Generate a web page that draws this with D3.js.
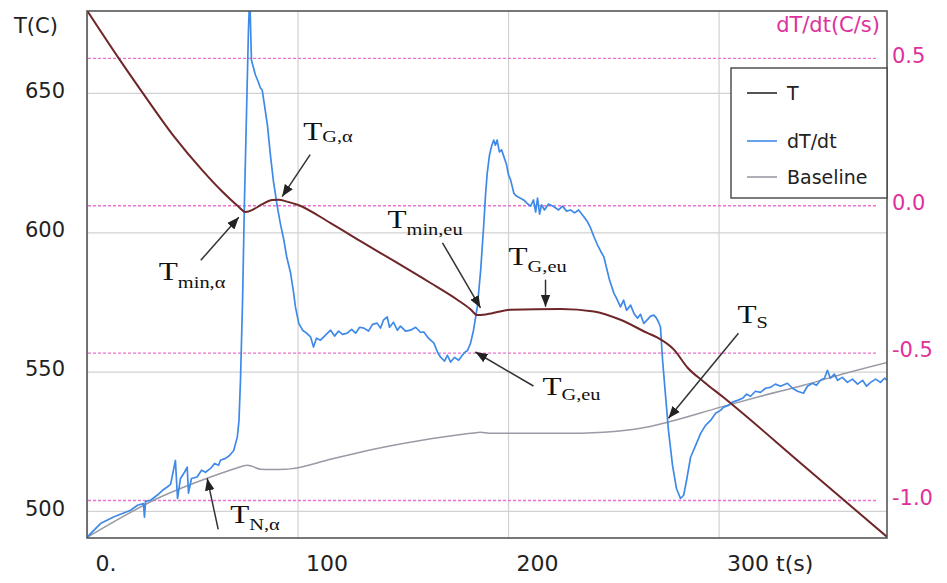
<!DOCTYPE html>
<html>
<head>
<meta charset="utf-8">
<script src="https://cdn.jsdelivr.net/npm/d3@7"></script>
<style>
body { margin: 0; background: #fff; }
</style>
</head>
<body>
<div id="chart"></div>
<script>
// values
var tempTime = [0, 15.1, 26.2, 41.2, 54.7, 64, 71.4, 75.3, 79, 83, 88, 91, 95, 100, 115.7, 131.5, 147.4, 163.2, 175.9, 182, 185.4, 190, 201.2, 225, 240.8, 253.4, 266.1, 271, 278.8, 285.3, 292.9, 302.4, 340, 380.3]
var tempVal = [679.6, 662.4, 650.3, 634.5, 622.3, 614.8, 609.6, 607.3, 608.2, 610.0, 611.6, 611.7, 611.0, 609.9, 603.3, 596.1, 589.0, 581.8, 575.8, 572.5, 570.3, 570.6, 572.2, 572.5, 571.6, 568.6, 563.9, 562.2, 557.9, 551.4, 546.4, 540.7, 516.5, 490.5]

var rateTime = [0.1, 6.4, 12.6, 20.7, 24.0, 26.8, 27.3, 27.8, 30.2, 33.3, 35.9, 38.1, 39.7, 42.0, 43.0, 44.4, 46.3, 47.6, 48.2, 49.6,
  52.3, 54.4, 56.3, 58.7, 60.6, 62.5, 63.4, 65.8, 67.7, 69.7, 71.4, 72.2, 72.9, 73.9, 74.8, 75.8, 76.7, 77.3, 78.1, 80.0,
  81.0, 82.4, 83.2, 84.3, 85.7, 87.2, 88.6, 90.4, 91.9, 93.5, 94.8, 96.7, 98.1, 99.0, 100.6, 102.4, 104.3, 106.2, 107.6, 109.0,
  110.9, 113.3, 115.7, 117.6, 119.5, 121.4, 123.6, 125.7, 127.6, 129.5, 131.5, 133.7, 135.6, 137.8, 139.4, 140.8, 142.6, 143.7, 145.6, 147.4,
  148.9, 151.3, 153.7, 156.1, 158.4, 160.0, 162.2, 164.8, 166.5, 167.9, 169.8, 171.2, 172.7, 174.6, 176.5, 179.0, 180.8, 182.2, 183.6, 185.4,
  187.0, 188.5, 189.3, 190.1, 191.2, 192.2, 193.2, 194.0, 194.8, 195.9, 196.9, 198.0, 199.3, 200.2, 201.2, 202.8, 204.0, 205.9, 207.4, 209.1,
  210.7, 212.1, 213.1, 214.0, 215.0, 215.9, 217.3, 219.2, 221.8, 224.0, 225.9, 227.8, 229.7, 231.6, 233.5, 236.0, 237.8, 239.2, 240.8, 242.5,
  244.0, 245.5, 246.8, 248.2, 250.3, 251.5, 253.4, 254.9, 256.3, 258.2, 259.8, 261.5, 262.9, 264.5, 266.3, 267.7, 269.3, 270.5, 271.5, 272.4,
  273.4, 274.8, 276.2, 278.1, 280.0, 281.9, 283.4, 284.8, 286.7, 289.1, 291.5, 293.8, 296.2, 298.6, 300.9, 302.4, 304.7, 306.6, 309.0, 311.4,
  313.3, 315.2, 317.5, 319.9, 322.3, 324.6, 327.0, 329.4, 332.7, 335.1, 337.5, 340.3, 342.2, 344.6, 346.5, 348.4, 350.3, 351.7, 353.1, 355.0,
  356.5, 358.8, 361.2, 363.6, 366.0, 368.4, 370.3, 372.2, 374.6, 376.9, 378.8, 380.2]
var rateVal = [-1.126, -1.080, -1.058, -1.035, -1.018, -1.012, -1.058, -1.005, -1.001, -0.984, -0.967, -0.956, -0.947, -0.866, -0.995, -0.927, -0.906, -0.889, -0.977, -0.927,
  -0.922, -0.899, -0.906, -0.893, -0.876, -0.882, -0.865, -0.859, -0.849, -0.832, -0.786, -0.730, -0.594, -0.322, 0.018, 0.323, 0.595, 0.714, 0.493, 0.442,
  0.425, 0.398, 0.391, 0.340, 0.272, 0.165, 0.079, -0.005, -0.064, -0.118, -0.173, -0.230, -0.295, -0.345, -0.401, -0.424, -0.434, -0.447, -0.481, -0.451,
  -0.458, -0.441, -0.424, -0.444, -0.427, -0.438, -0.434, -0.421, -0.434, -0.414, -0.417, -0.427, -0.404, -0.400, -0.417, -0.390, -0.379, -0.414, -0.397, -0.424,
  -0.410, -0.427, -0.424, -0.414, -0.431, -0.430, -0.451, -0.468, -0.499, -0.515, -0.529, -0.509, -0.532, -0.516, -0.526, -0.502, -0.492, -0.468, -0.424, -0.345,
  -0.220, -0.061, 0.035, 0.109, 0.171, 0.201, 0.221, 0.204, 0.221, 0.181, 0.188, 0.165, 0.137, 0.103, 0.086, 0.040, 0.031, 0.024, 0.018, 0.006,
  -0.003, 0.018, -0.023, 0.024, -0.030, 0.001, -0.016, 0.004, -0.005, -0.016, -0.003, -0.020, -0.016, -0.026, -0.016, -0.039, -0.057, -0.077, -0.107, -0.135,
  -0.156, -0.175, -0.213, -0.254, -0.299, -0.315, -0.345, -0.322, -0.356, -0.339, -0.367, -0.383, -0.370, -0.401, -0.387, -0.376, -0.373, -0.383, -0.397, -0.413,
  -0.526, -0.645, -0.764, -0.882, -0.961, -0.995, -0.984, -0.933, -0.855, -0.815, -0.774, -0.747, -0.730, -0.706, -0.696, -0.685, -0.679, -0.668, -0.662, -0.655,
  -0.641, -0.648, -0.631, -0.635, -0.621, -0.618, -0.607, -0.614, -0.604, -0.621, -0.631, -0.638, -0.614, -0.604, -0.611, -0.594, -0.587, -0.560, -0.587, -0.573,
  -0.594, -0.584, -0.601, -0.590, -0.607, -0.594, -0.614, -0.601, -0.590, -0.601, -0.587, -0.594]

var baseTime = [0, 34.9, 58.7, 70.5, 76.1, 78.6, 82.4, 87.2, 94.3, 98.1, 115.7, 133.3, 158.4, 182.2, 187, 191.7, 201.2, 225, 245.4, 262.9, 275.8, 301, 320, 340.3, 360.3, 380.2]
var baseVal = [-1.127, -0.990, -0.922, -0.893, -0.882, -0.886, -0.896, -0.897, -0.896, -0.893, -0.862, -0.832, -0.798, -0.774, -0.770, -0.774, -0.774, -0.774, -0.770, -0.757, -0.736, -0.685, -0.648, -0.611, -0.570, -0.533]

var xTicks = [0, 100, 200, 300]
var xTickLabels = ["0.", "100", "200", "300 t(s)"]
var tTicks = [500, 550, 600, 650]
var rateTicks = [0.5, 0.0, -0.5, -1.0]
var rateTickLabels = ["0.5", "0.0", "-0.5", "-1.0"]
var legendNames = ["T", "dT/dt", "Baseline"]

// annotations: which axis, time and value the arrow points at
var annoMain = ["T", "T", "T", "T", "T", "T", "T"]
var annoSub = ["G,\u03b1", "min,\u03b1", "min,eu", "G,eu", "G,eu", "S", "N,\u03b1"]
var annoAxis = ["T", "T", "T", "T", "rate", "rate", "rate"]
var annoTime = [92.7, 72.1, 186.9, 217.8, 184.5, 276.2, 57.1]
var annoVal = [612.8, 605.4, 572.9, 573.3, -0.498, -0.723, -0.927]

// layout
var W = 947, H = 583
var margin = {top: 11, right: 60, bottom: 45, left: 87}
var width = W - margin.left - margin.right,
height = H - margin.top - margin.bottom

var colT = "#6e2628", colRate = "#3f8ae8", colBase = "#9a9aa6"
var pink = "#e0309c", pinkLine = "#ee70d2"

var svg = d3.select("#chart")
.append("svg")
.attr("width", W)
.attr("height", H)
.append("g")
.attr("transform", "translate(" + margin.left + "," + margin.top + ")")

var x = d3.scaleLinear().domain([0, 380]).range([0, width])
var yT = d3.scaleLinear().domain([490.3, 679.4]).range([height, 0])
var yR = d3.scaleLinear().domain([-1.129, 0.659]).range([height, 0])

// grey grid through the axes
var gx = svg.append("g")
.attr("transform", "translate(0," + height + ")")
.call(d3.axisBottom(x).tickValues(xTicks).tickSize(-height).tickPadding(17)
  .tickFormat(function(d, i){ return xTickLabels[i] }))
gx.select(".domain").remove()
gx.selectAll("line").attr("stroke", "#d2d2d2").attr("stroke-width", 1.2)
gx.selectAll("text").attr("x", 8).attr("text-anchor", "start")
  .style("font-family", "DejaVu Sans").style("font-size", "22px").attr("fill", "#222")

var gy = svg.append("g")
.call(d3.axisLeft(yT).tickValues(tTicks).tickSize(-width).tickPadding(22))
gy.select(".domain").remove()
gy.selectAll("line").attr("stroke", "#d2d2d2").attr("stroke-width", 1.2)
gy.selectAll("text").attr("dy", "0.2em")
  .style("font-family", "DejaVu Sans").style("font-size", "21px").attr("fill", "#222")

// pink dashed lines for the rate axis
var gr = svg.append("g")
.attr("transform", "translate(" + (width - 11) + ",0)")
.call(d3.axisRight(yR).tickValues(rateTicks).tickSize(-(width - 11)).tickPadding(16)
  .tickFormat(function(d, i){ return rateTickLabels[i] }))
gr.select(".domain").remove()
gr.selectAll("line").attr("stroke", pinkLine).attr("stroke-width", 1.3).attr("stroke-dasharray", "3,2")
gr.selectAll("text").attr("dy", "0.2em")
  .style("font-family", "DejaVu Sans").style("font-size", "21px").attr("fill", pink)

svg.append("clipPath").attr("id", "plotclip")
.append("rect").attr("width", width).attr("height", height)

var plot = svg.append("g").attr("clip-path", "url(#plotclip)")

var baseData = baseTime.map(function(t, i){ return [t, baseVal[i]] })
var rateData = rateTime.map(function(t, i){ return [t, rateVal[i]] })
var tempData = tempTime.map(function(t, i){ return [t, tempVal[i]] })

plot.append("path")
.datum(baseData)
.attr("fill", "none")
.attr("stroke", colBase)
.attr("stroke-width", 1.5)
.attr("d", d3.line()
  .x(function(d){ return x(d[0]) })
  .y(function(d){ return yR(d[1]) })
  .curve(d3.curveMonotoneX))

plot.append("path")
.datum(rateData)
.attr("fill", "none")
.attr("stroke", colRate)
.attr("stroke-width", 1.7)
.attr("stroke-linejoin", "round")
.attr("d", d3.line()
  .x(function(d){ return x(d[0]) })
  .y(function(d){ return yR(d[1]) }))

plot.append("path")
.datum(tempData)
.attr("fill", "none")
.attr("stroke", colT)
.attr("stroke-width", 2)
.attr("d", d3.line()
  .x(function(d){ return x(d[0]) })
  .y(function(d){ return yT(d[1]) })
  .curve(d3.curveMonotoneX))

// frame
svg.append("rect")
.attr("width", width)
.attr("height", height)
.attr("fill", "none")
.attr("stroke", "#555")
.attr("stroke-width", 1.6)

// axis titles
svg.append("text")
.attr("x", 14 - margin.left).attr("y", 33 - margin.top)
.style("font-family", "DejaVu Sans").style("font-size", "21px").attr("fill", "#222")
.text("T(C)")

svg.append("text")
.attr("x", width - 7).attr("y", 32 - margin.top)
.attr("text-anchor", "end")
.style("font-family", "DejaVu Sans").style("font-size", "21px").attr("fill", pink)
.text("dT/dt(C/s)")

// legend
var legX = width - 156, legY = 68 - margin.top
var leg = svg.append("g").attr("transform", "translate(" + legX + "," + legY + ")")
leg.append("rect")
.attr("width", 156).attr("height", 130)
.attr("fill", "#fff").attr("stroke", "#444").attr("stroke-width", 1.4)
var legRowY = [25, 73, 109]
var legCols = ["#2a2a2a", colRate, colBase]
legendNames.forEach(function(name, i){
  leg.append("line")
  .attr("x1", 16).attr("x2", 46)
  .attr("y1", legRowY[i]).attr("y2", legRowY[i])
  .attr("stroke", legCols[i]).attr("stroke-width", 1.6)
  leg.append("text")
  .attr("x", 56).attr("y", legRowY[i]).attr("dy", "0.36em")
  .style("font-family", "DejaVu Sans").style("font-size", "19px").attr("fill", "#222")
  .text(name)
})

// annotation arrows and labels
svg.append("defs").append("marker")
.attr("id", "arrowhead")
.attr("viewBox", "0 -5 10 10")
.attr("refX", 10).attr("refY", 0)
.attr("markerUnits", "userSpaceOnUse")
.attr("markerWidth", 12).attr("markerHeight", 12)
.attr("orient", "auto")
.append("path").attr("d", "M0,-4L10,0L0,4Z").attr("fill", "#222")

// tail offset, label offset, subscript drop (pixels from the arrow head)
var annoTail = [[28, -42], [-38, 43], [-38, -65], [0, -27], [58, 34], [70, -85], [11, 51]]
var annoLabel = [[21, -57], [-80, 63], [-93, -80], [-37, -42], [67, 43], [69, -95], [23, 45]]
var annoDrop = [2, 8, 7, 7, 5, 5, 7]

annoMain.forEach(function(m, i){
  var hx = x(annoTime[i])
  var hy = annoAxis[i] == "T" ? yT(annoVal[i]) : yR(annoVal[i])
  svg.append("line")
  .attr("x1", hx + annoTail[i][0]).attr("y1", hy + annoTail[i][1])
  .attr("x2", hx).attr("y2", hy)
  .attr("stroke", "#333").attr("stroke-width", 1.5)
  .attr("marker-end", "url(#arrowhead)")
  var lab = svg.append("g")
  .attr("transform", "translate(" + (hx + annoLabel[i][0]) + "," + (hy + annoLabel[i][1]) + ") scale(1.2,1)")
  var txt = lab.append("text")
  .style("font-family", "Liberation Serif").attr("fill", "#111")
  txt.append("tspan").style("font-size", "26px").text(m)
  txt.append("tspan").attr("dy", annoDrop[i]).style("font-size", "17px").text(annoSub[i])
})
</script>
</body>
</html>
